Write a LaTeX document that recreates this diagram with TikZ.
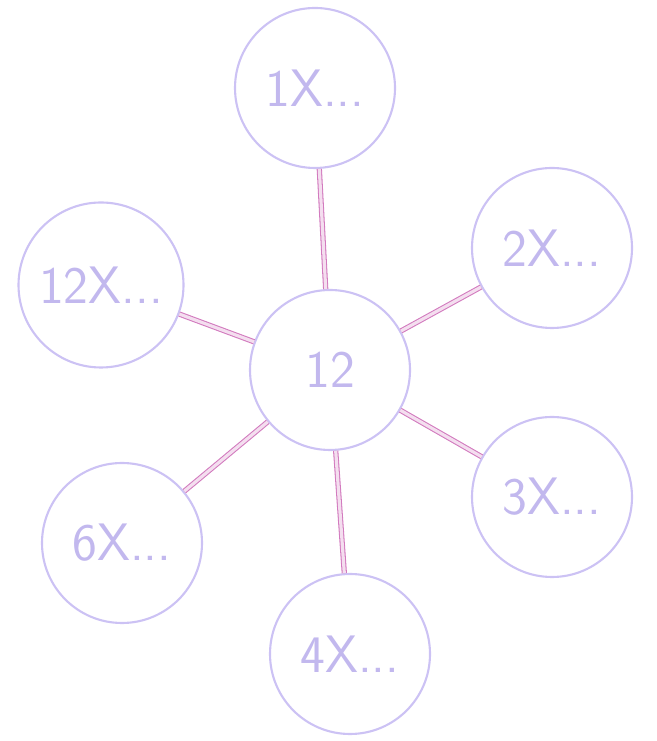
\documentclass[tikz,border=0pt]{standalone}
\usepackage{tikz}
\usepackage{xcolor}
\definecolor{ring}{HTML}{CCC2F4}
\definecolor{ink}{HTML}{C2B8EE}
\definecolor{link}{HTML}{D27ABE}

\begin{document}
\begin{tikzpicture}[
          f/.style={draw=ring, circle, line width=1.2pt, minimum size=3.2cm, inner sep=0pt,
            text=ink, font=\sffamily\fontsize{30}{30}\selectfont},
          ln/.style={draw=link, line width=0.6pt, double=link!25, double distance=1.8pt}
        ]
        \useasboundingbox (0,0) rectangle (13.12,14.82);
        \node[f] (c) at (6.6,7.42) {12};
        \node[f] (n1) at (6.3,13.06) {1X...};
        \node[f] (n2) at (11.04,9.86) {2X...};
        \node[f] (n3) at (11.04,4.88) {3X...};
        \node[f] (n4) at (7.0,1.74) {4X...};
        \node[f] (n6) at (2.44,3.96) {6X...};
        \node[f, minimum size=3.3cm] (n12) at (2.02,9.12) {12X...};
        \draw[ln] (c) -- (n1);
        \draw[ln] (c) -- (n2);
        \draw[ln] (c) -- (n3);
        \draw[ln] (c) -- (n4);
        \draw[ln] (c) -- (n6);
        \draw[ln] (c) -- (n12);
      \end{tikzpicture}
\end{document}
